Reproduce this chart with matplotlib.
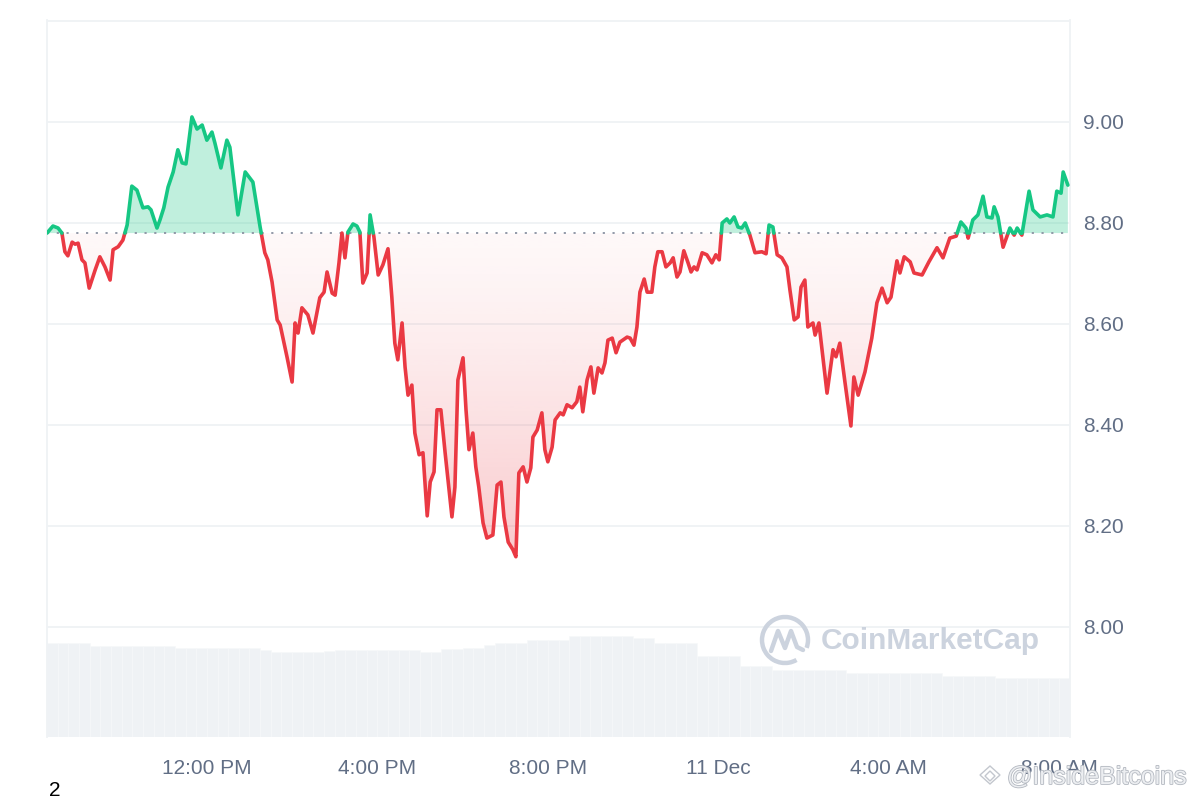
import numpy as np
import matplotlib
matplotlib.use("Agg")
import matplotlib.pyplot as plt
import matplotlib.patheffects as pe
from matplotlib.colors import to_rgb
from matplotlib.patches import Arc, Polygon

plt.rcParams['font.family'] = ['Liberation Sans', 'DejaVu Sans']

# hours since 10 Dec 08:15, price in USD
hours = [0.00, 0.14, 0.26, 0.35, 0.42, 0.49, 0.59, 0.66, 0.73, 0.82, 0.89, 0.99,
         1.13, 1.24, 1.36, 1.48, 1.55, 1.67, 1.78, 1.88, 1.99, 2.11, 2.25, 2.37,
         2.44, 2.58, 2.65, 2.74, 2.84, 2.96, 3.07, 3.17, 3.26, 3.40, 3.52, 3.64,
         3.75, 3.87, 3.94, 4.08, 4.22, 4.29, 4.48, 4.65, 4.83, 5.00, 5.11, 5.18,
         5.28, 5.40, 5.47, 5.63, 5.75, 5.82, 5.89, 5.98, 6.12, 6.24, 6.40, 6.50,
         6.57, 6.69, 6.76, 6.85, 6.92, 6.99, 7.06, 7.18, 7.27, 7.34, 7.41, 7.51,
         7.58, 7.67, 7.77, 7.88, 8.00, 8.09, 8.16, 8.23, 8.33, 8.40, 8.47, 8.56,
         8.63, 8.73, 8.82, 8.92, 8.99, 9.08, 9.15, 9.24, 9.34, 9.50, 9.57, 9.64,
         9.76, 9.83, 9.90, 9.99, 10.06, 10.13, 10.23, 10.32, 10.46, 10.56, 10.65, 10.72,
         10.82, 10.93, 11.00, 11.07, 11.17, 11.26, 11.35, 11.40, 11.50, 11.61, 11.68, 11.75,
         11.85, 11.92, 12.04, 12.11, 12.20, 12.32, 12.43, 12.50, 12.57, 12.67, 12.76, 12.83,
         12.93, 13.02, 13.09, 13.16, 13.26, 13.35, 13.44, 13.61, 13.68, 13.77, 13.84, 13.91,
         14.01, 14.08, 14.19, 14.26, 14.33, 14.43, 14.52, 14.62, 14.69, 14.78, 14.85, 14.94,
         15.04, 15.11, 15.18, 15.25, 15.37, 15.48, 15.60, 15.69, 15.77, 15.84, 15.95, 16.02,
         16.12, 16.21, 16.30, 16.38, 16.49, 16.61, 16.77, 16.87, 16.94, 17.03, 17.13, 17.24,
         17.36, 17.43, 17.53, 17.62, 17.69, 17.78, 17.85, 17.97, 18.02, 18.11, 18.30, 18.44,
         18.51, 18.60, 18.72, 18.86, 18.93, 19.03, 19.19, 19.35, 19.47, 19.59, 19.71, 19.80,
         19.94, 20.01, 20.11, 20.25, 20.34, 20.53, 20.69, 20.88, 21.02, 21.18, 21.33, 21.44,
         21.56, 21.61, 21.72, 21.84, 21.96, 22.05, 22.17, 22.22, 22.31, 22.43, 22.59, 22.69,
         22.76, 22.87, 23.04, 23.13, 23.30, 23.46, 23.60, 23.69, 23.79, 23.84, 23.95]
price = [8.780, 8.794, 8.790, 8.780, 8.743, 8.735, 8.762, 8.758, 8.760, 8.727, 8.721, 8.671,
         8.707, 8.733, 8.713, 8.687, 8.747, 8.753, 8.766, 8.796, 8.873, 8.865, 8.830, 8.832,
         8.826, 8.790, 8.806, 8.830, 8.871, 8.901, 8.945, 8.919, 8.917, 9.010, 8.986, 8.994,
         8.964, 8.980, 8.958, 8.909, 8.964, 8.950, 8.816, 8.901, 8.881, 8.792, 8.741, 8.727,
         8.683, 8.608, 8.598, 8.535, 8.485, 8.602, 8.582, 8.632, 8.618, 8.582, 8.652, 8.663,
         8.703, 8.661, 8.657, 8.721, 8.780, 8.731, 8.782, 8.798, 8.794, 8.782, 8.681, 8.701,
         8.816, 8.772, 8.697, 8.717, 8.749, 8.653, 8.562, 8.529, 8.602, 8.515, 8.459, 8.479,
         8.384, 8.341, 8.345, 8.220, 8.287, 8.307, 8.430, 8.430, 8.345, 8.218, 8.277, 8.489,
         8.533, 8.430, 8.351, 8.384, 8.317, 8.277, 8.206, 8.176, 8.182, 8.281, 8.287, 8.218,
         8.168, 8.153, 8.139, 8.305, 8.317, 8.287, 8.315, 8.376, 8.390, 8.424, 8.351, 8.327,
         8.356, 8.410, 8.424, 8.420, 8.440, 8.434, 8.446, 8.475, 8.426, 8.489, 8.515, 8.463,
         8.513, 8.503, 8.523, 8.568, 8.572, 8.543, 8.564, 8.574, 8.572, 8.558, 8.594, 8.663,
         8.689, 8.663, 8.663, 8.713, 8.743, 8.743, 8.713, 8.721, 8.731, 8.693, 8.703, 8.745,
         8.721, 8.703, 8.713, 8.707, 8.741, 8.737, 8.721, 8.737, 8.727, 8.800, 8.808, 8.800,
         8.812, 8.792, 8.790, 8.800, 8.776, 8.741, 8.743, 8.739, 8.796, 8.792, 8.737, 8.731,
         8.713, 8.667, 8.608, 8.614, 8.673, 8.687, 8.594, 8.602, 8.578, 8.602, 8.463, 8.549,
         8.535, 8.562, 8.485, 8.398, 8.495, 8.459, 8.505, 8.572, 8.642, 8.671, 8.642, 8.653,
         8.725, 8.701, 8.733, 8.723, 8.701, 8.697, 8.723, 8.751, 8.731, 8.770, 8.774, 8.802,
         8.790, 8.770, 8.806, 8.816, 8.853, 8.812, 8.810, 8.832, 8.812, 8.752, 8.790, 8.776,
         8.790, 8.776, 8.863, 8.826, 8.812, 8.816, 8.812, 8.863, 8.859, 8.901, 8.875]
open_price = 8.78

# 24h volume, 15 minute buckets (arbitrary units)
volume = [9.4, 9.4, 9.4, 9.4, 9.1, 9.1, 9.1, 9.1, 9.1, 9.1, 9.1, 9.1,
          8.9, 8.9, 8.9, 8.9, 8.9, 8.9, 8.9, 8.9, 8.7, 8.5, 8.5, 8.5,
          8.5, 8.5, 8.6, 8.7, 8.7, 8.7, 8.7, 8.7, 8.7, 8.7, 8.7, 8.5,
          8.5, 8.8, 8.8, 8.9, 8.9, 9.2, 9.4, 9.4, 9.4, 9.7, 9.7, 9.7,
          9.7, 10.1, 10.1, 10.1, 10.1, 10.1, 10.1, 9.9, 9.9, 9.4, 9.4, 9.4,
          9.4, 8.1, 8.1, 8.1, 8.1, 7.1, 7.1, 7.1, 6.7, 6.7, 6.7, 6.7,
          6.7, 6.7, 6.7, 6.4, 6.4, 6.4, 6.4, 6.4, 6.4, 6.4, 6.4, 6.4,
          6.1, 6.1, 6.1, 6.1, 6.1, 5.9, 5.9, 5.9, 5.9, 5.9, 5.9, 5.9]
vol_hours = np.arange(len(volume)) * 0.25

tick_hours = [3.75, 7.75, 11.75, 15.75, 19.75, 23.75]
tick_labels = ["12:00 PM", "4:00 PM", "8:00 PM", "11 Dec", "4:00 AM", "8:00 AM"]
grid_levels = [8.0, 8.2, 8.4, 8.6, 8.8, 9.0, 9.2]
grid_labels = ["8.00", "8.20", "8.40", "8.60", "8.80", "9.00", ""]

green = "#16c784"
red = "#ea3943"
grid_col = "#eff2f5"
text_col = "#616e85"

# insert crossing points so the colour switches exactly on the open line
h = np.array(hours)
p = np.array(price)
xs, ys = [h[0]], [p[0]]
for i in range(1, len(h)):
    a, b = p[i - 1] - open_price, p[i] - open_price
    if a * b < 0:
        t = a / (a - b)
        xs.append(h[i - 1] + t * (h[i] - h[i - 1]))
        ys.append(open_price)
    xs.append(h[i])
    ys.append(p[i])
xs = np.array(xs)
ys = np.array(ys)
up = np.where(ys >= open_price, ys, np.nan)
dn = np.where(ys <= open_price, ys, np.nan)

fig = plt.figure(figsize=(12, 8), dpi=100)
ax = fig.add_axes([47 / 1200, 63 / 800, 1023 / 1200, 717 / 800])
ax2 = ax.twinx()

# volume bars behind
ax2.bar(vol_hours, volume, width=0.25, align="edge", color="#eff2f5",
        edgecolor="#f7f8fa", linewidth=0.4)
ax2.set_ylim(0, 71.7)
ax2.axis("off")
ax.set_zorder(ax2.get_zorder() + 1)
ax.patch.set_visible(False)

for lv in grid_levels:
    ax.axhline(lv, color=grid_col, lw=1.3, zorder=0.5)

# green area
ax.fill_between(xs, ys, open_price, where=ys >= open_price, interpolate=True,
                color=green, alpha=0.27, lw=0, zorder=1)

# red gradient area
poly = ax.fill_between(xs, np.minimum(ys, open_price), open_price,
                       facecolor="none", edgecolor="none")
clip = poly.get_paths()[0]
g = np.linspace(0, 1, 256).reshape(-1, 1)
rgba = np.zeros((256, 1, 4))
rgba[..., :3] = to_rgb(red)
rgba[..., 3] = 0.035 + 0.24 * g ** 1.3
im = ax.imshow(rgba, extent=[0, 24, ys.min(), open_price], aspect="auto",
               origin="upper", zorder=1, interpolation="bilinear")
im.set_clip_path(clip, transform=ax.transData)

ax.axhline(open_price, color="#8a92a2", lw=1.3, ls=(0, (1.2, 4.2)), zorder=2)

ax.plot(xs, dn, color=red, lw=2.6, solid_joinstyle="round", solid_capstyle="round", zorder=3)
ax.plot(xs, up, color=green, lw=2.6, solid_joinstyle="round", solid_capstyle="round", zorder=3)

ax.set_xlim(0, 24)
ax.set_ylim(7.782, 9.202)
ax.set_xticks(tick_hours, tick_labels)
ax.set_yticks(grid_levels, grid_labels)
ax.yaxis.tick_right()
ax.tick_params(axis="y", length=0, pad=9.5, labelsize=15, labelcolor=text_col)
ax.tick_params(axis="x", length=0, pad=16, labelsize=15, labelcolor=text_col)
for s in ["top", "bottom"]:
    ax.spines[s].set_visible(False)
for s in ["left", "right"]:
    ax.spines[s].set_color(grid_col)
    ax.spines[s].set_linewidth(1.3)

# watermarks and extra marks in pixel coordinates
ov = fig.add_axes([0, 0, 1, 1], zorder=10)
ov.set_xlim(0, 1200)
ov.set_ylim(800, 0)
ov.axis("off")
ov.patch.set_visible(False)

wm = "#ccd3de"
ov.add_patch(Arc((785, 640), 46, 46, theta1=60, theta2=20, color=wm, lw=3.2))
ov.plot([771, 778, 785, 791, 797, 803], [651, 631, 648, 631, 647, 650],
        color=wm, lw=3.2, solid_joinstyle="round", solid_capstyle="round")
ov.text(821, 641, "CoinMarketCap", fontsize=21.5, fontweight="bold", color=wm,
        ha="left", va="center")

ov.add_patch(Polygon([(990, 766), (1000, 775), (990, 784), (980, 775)], closed=True,
                     fill=False, ec="#c3c7ce", lw=1))
ov.add_patch(Polygon([(990, 771), (995, 776), (990, 781), (985, 776)], closed=True,
                     fill=False, ec="#c3c7ce", lw=1))
ov.text(1007, 777, "@InsideBitcoins", fontsize=18, color="#eceef1", ha="left", va="center",
        path_effects=[pe.withStroke(linewidth=1.2, foreground="#b3b8c0")])

ov.text(55, 791, "2", fontsize=15, color="black", ha="center", va="center")

fig.savefig("out.png", dpi=100, facecolor="white")
